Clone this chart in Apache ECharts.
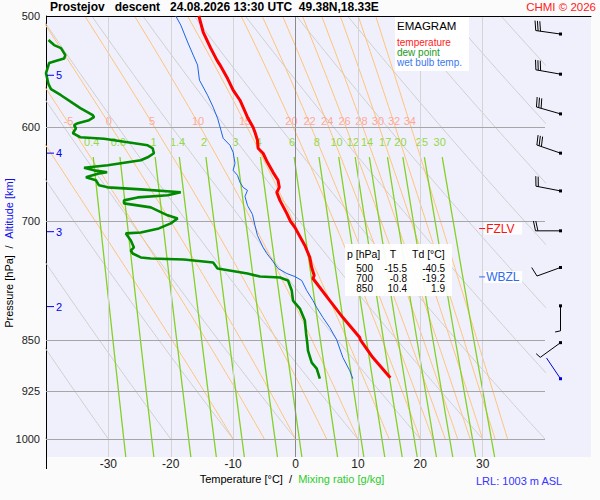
<!DOCTYPE html>
<html><head><meta charset="utf-8">
<script src="https://cdn.jsdelivr.net/npm/echarts@6/dist/echarts.min.js"></script>
<style>html,body{margin:0;padding:0;background:#fbfbfb;}#chart{width:600px;height:500px;}</style>
</head><body><div id="chart"></div>
<script>
// ---------------- data ----------------
const pressureLevels = [500, 600, 700, 850, 925, 1000];
const isotherms = [-30, -20, -10, 0, 10, 20, 30];
const altitudeKm = [5, 4, 3, 2];
const altitudePressure = [551, 626, 712, 805];
const dryAdiabatTheta = [-40, -30, -20, -10, 0, 10, 20, 30, 40, 50, 60, 70, 80, 90, 100];
const moistAdiabatThetaW = [-10, -5, 0, 5, 10, 15, 20, 22, 24, 26, 28, 30, 32, 34];
const mixingRatios = [0.4, 0.6, 1, 1.4, 2, 3, 4, 6, 8, 10, 12, 14, 17, 20, 25, 30];

// [pressure hPa, temperature °C]
const temperature = [[500,-15.5],[513.3,-14.8],[527.0,-13.6],[537.5,-12.6],[541.9,-12.1],[552.7,-11.0],[564.6,-10.0],[574.0,-8.9],[590.2,-7.7],[600.0,-6.8],[604.9,-6.5],[612.9,-6.1],[621.0,-6.0],[626.1,-5.2],[635.5,-4.5],[646.0,-3.6],[654.5,-2.8],[662.1,-2.6],[667.6,-3.0],[676.4,-2.5],[691.0,-1.4],[700.0,-0.8],[707.0,-0.1],[728.3,1.5],[742.7,2.3],[755.0,2.6],[765.0,3.0],[768.8,2.8],[780.2,3.9],[797.1,5.5],[819.6,7.6],[846.9,10.3],[850,10.4],[875.1,12.4],[904.5,15.2]];
const dewPoint = [[520.1,-39.6],[524.4,-38.7],[527.0,-37.6],[533.1,-36.9],[536.1,-37.1],[537.9,-38.2],[540.1,-39.5],[549.1,-40.0],[559.1,-39.6],[563.7,-39.2],[569.3,-37.6],[576.8,-35.7],[581.5,-34.5],[588.3,-32.5],[590.2,-32.3],[593.1,-33.1],[596.0,-34.9],[598.0,-35.5],[601.0,-35.2],[605.9,-35.7],[609.9,-34.5],[611.4,-30.7],[614.9,-26.9],[618.0,-23.7],[621.0,-22.9],[626.1,-22.7],[630.3,-23.7],[633.4,-24.8],[638.6,-30.1],[641.2,-33.9],[643.9,-32.3],[646.0,-30.2],[647.6,-31.7],[651.3,-33.6],[654.5,-32.0],[659.9,-31.5],[662.1,-30.1],[664.3,-24.8],[667.5,-18.4],[670.8,-20.5],[673.1,-25.3],[676.4,-27.5],[679.7,-27.5],[684.2,-23.2],[693.2,-20.5],[696.7,-18.9],[702.4,-20.0],[708.2,-21.9],[712.9,-24.8],[714.0,-27.2],[722.3,-26.4],[730.6,-25.9],[734.3,-26.4],[737.9,-26.1],[742.7,-24.8],[744.0,-23.2],[745.2,-17.9],[748.9,-13.2],[756.3,-12.5],[762.5,-7.7],[766.3,-5.7],[767.5,-2.5],[771.3,-1.2],[784.1,-0.6],[797.1,-0.4],[807.6,0.7],[823.7,1.5],[841.5,1.7],[855.4,1.9],[865.3,2.0],[882.5,2.6],[891.2,3.4],[906.0,3.9]];
const wetBulb = [[500,-19.2],[507.4,-18.4],[521.8,-17.3],[533.1,-16.4],[541.9,-15.7],[555.4,-15.4],[569.3,-14.1],[580.6,-13.2],[591.2,-12.5],[601.9,-12.0],[610.9,-11.6],[618.0,-10.5],[625.1,-10.0],[636.5,-9.7],[643.9,-10.0],[649.2,-9.3],[656.7,-8.9],[662.1,-8.4],[665.4,-7.7],[672.0,-8.1],[682.0,-7.7],[692.1,-6.9],[704.7,-6.5],[716.4,-6.1],[730.6,-5.2],[737.9,-4.6],[747.6,-3.6],[756.3,-2.8],[762.5,-1.4],[766.3,-0.1],[771.3,1.0],[784.1,1.8],[797.1,2.8],[806.3,3.4],[819.6,4.4],[833.2,5.5],[850,6.6],[875.1,7.6],[894.2,8.7],[906.0,9.2]];

const windPressure = [515, 550, 587, 626, 666, 711, 755, 804, 854, 906];
const windDirection = [278, 280, 286, 289, 281, 270, 250, 180, 234, 326];
const windSpeed = [30, 30, 30, 30, 20, 20, 10, 5, 3, 2];

const tableLevels = ['500', '700', '850'];
const tableT = ['-15.5', '-0.8', '10.4'];
const tableTd = ['-40.5', '-19.2', '1.9'];

// ---------------- helpers ----------------
const FONT = 'Liberation Sans, Arial, sans-serif';
const es = T => 6.112 * Math.exp(17.67 * T / (T + 243.5));
// Bolton (1980) equivalent potential temperature of a saturated parcel
function thetaE(T, p) { const K = T + 273.15, e = es(T), r = 622 * e / (p - e);
  return K * Math.pow(1000 / p, 0.2854 * (1 - 0.00028 * r)) * Math.exp((3.376 / K - 0.00254) * r * (1 + 0.00081 * r)); }
function moistT(te, p) { let lo = -110, hi = 60; for (let i = 0; i < 50; i++) { const m = (lo + hi) / 2; if (thetaE(m, p) > te) hi = m; else lo = m; } return (lo + hi) / 2; }
function mixT(w, p) { const e = w * p / (622 + w), l = Math.log(e / 6.112); return 243.5 * l / (17.67 - l); }
function levelCrossing(prof) { for (let i = 1; i < prof.length; i++) { const a = prof[i - 1], b = prof[i]; if (a[1] < 0 && b[1] >= 0) return a[0] + (b[0] - a[0]) * (0 - a[1]) / (b[1] - a[1]); } return null; }
const range = (a, b, s) => { const r = []; for (let v = a; v <= b + 1e-9; v += s) r.push(v); return r; };

const series = [];
const bgLine = (data, color, width, z) => ({ type: 'line', xAxisIndex: 0, yAxisIndex: 0, data, showSymbol: false, symbol: 'none', silent: true, z, lineStyle: { color, width }, clip: true, animation: false });

// grid lines holder
series.push({
  type: 'line', xAxisIndex: 0, yAxisIndex: 0, data: [[0, 700]], symbol: 'none', lineStyle: { opacity: 0 }, silent: true, z: 3,
  markLine: {
    silent: true, symbol: 'none', animation: false,
    data: isotherms.map(t => ({ xAxis: t, lineStyle: { color: t === 0 ? '#8a8a8a' : '#d4d4d4', width: 1, type: 'solid' }, label: { show: false } }))
      .concat(pressureLevels.map(p => ({ yAxis: p, lineStyle: { color: p === 500 ? '#000' : '#a6a6a6', width: 1, type: 'solid' },
        label: { show: true, position: 'start', formatter: String(p), color: '#222', fontSize: 11, fontFamily: FONT, distance: 6 } })))
  }
});

const pDry = range(500, 1000, 5);
dryAdiabatTheta.forEach(th => series.push(bgLine(pDry.map(p => [(th + 273.15) * Math.pow(p / 1000, 0.2857) - 273.15, p]), '#cfcfcf', 1, 1)));
moistAdiabatThetaW.forEach(tw => { const te = thetaE(tw, 1000); series.push(bgLine(pDry.map(p => [moistT(te, p), p]), '#ffc37a', 1, 1)); });
const pMix = range(630, 1030, 10);
mixingRatios.forEach(w => series.push(bgLine(pMix.map(p => [mixT(w, p), p]), '#84d024', 1.3, 2)));

function textSeries(items, style, z) {
  return { type: 'custom', xAxisIndex: 0, yAxisIndex: 0, z, silent: true, animation: false,
    data: items.map(it => [it.T, it.p]),
    renderItem: (params, api) => { const pt = api.coord([api.value(0), api.value(1)]);
      return { type: 'text', x: pt[0], y: pt[1], style: Object.assign({ text: items[params.dataIndex].text, align: 'center', verticalAlign: 'middle', fontFamily: FONT, fontSize: 11 }, style) }; } };
}
// labels sit just above the 600 hPa isobar, on each line
const moistLabels = moistAdiabatThetaW.map(tw => ({ T: moistT(thetaE(tw, 1000), 596), p: 594, text: String(tw) })).filter(o => o.T > -39 && o.T < 39);
series.push(textSeries(moistLabels, { fill: '#ffa898' }, 4));
const mixLabels = mixingRatios.map(w => ({ T: mixT(w, 615), p: 615, text: String(w) }));
series.push(textSeries(mixLabels, { fill: '#95d847' }, 4));

// sounding
const sound = (name, prof, color, width) => ({ name, type: 'line', xAxisIndex: 0, yAxisIndex: 0, data: prof.map(d => [d[1], d[0]]), showSymbol: false, symbol: 'none', z: 6, lineStyle: { color, width }, clip: true, animation: false });
series.push(sound('wet bulb temp.', wetBulb, '#1b62e8', 1));
series.push(sound('dew point', dewPoint, '#008a00', 2.6));
series.push(sound('temperature', temperature, '#ff0000', 3));

// altitude ticks
series.push({ type: 'custom', xAxisIndex: 0, yAxisIndex: 0, z: 7, silent: true, animation: false,
  data: altitudeKm.map((k, i) => [-40, altitudePressure[i], k]),
  renderItem: (params, api) => { const pt = api.coord([api.value(0), api.value(1)]);
    return { type: 'group', children: [
      { type: 'line', shape: { x1: pt[0] + 1, y1: pt[1], x2: pt[0] + 8, y2: pt[1] }, style: { stroke: '#0000ee', lineWidth: 1 } },
      { type: 'text', x: pt[0] + 10, y: pt[1], style: { text: String(altitudeKm[params.dataIndex]), fill: '#0000ee', fontSize: 11, fontFamily: FONT, verticalAlign: 'middle', align: 'left' } } ] }; } });

// freezing / wet-bulb zero levels
const levels = [{ name: 'FZLV', p: levelCrossing(temperature), color: '#ff1010' }, { name: 'WBZL', p: levelCrossing(wetBulb), color: '#2f6bf0' }];
series.push({ type: 'custom', xAxisIndex: 0, yAxisIndex: 0, z: 8, silent: true, animation: false,
  data: levels.map(l => [30, l.p]),
  renderItem: (params, api) => { const pt = api.coord([api.value(0), api.value(1)]); const l = levels[params.dataIndex];
    return { type: 'group', children: [
      { type: 'rect', shape: { x: pt[0] + 1.5, y: pt[1] - 6, width: 38, height: 12 }, style: { fill: 'rgba(255,255,255,0.9)' } },
      { type: 'line', shape: { x1: pt[0] - 3.5, y1: pt[1], x2: pt[0] + 2.5, y2: pt[1] }, style: { stroke: l.color, lineWidth: 1 } },
      { type: 'text', x: pt[0] + 3.5, y: pt[1] + 0.5, style: { text: l.name, fill: l.color, fontSize: 12, fontFamily: FONT, verticalAlign: 'middle', align: 'left' } } ] }; } });

// wind barbs
const STATION_X = 15.5;
const groundIdx = windPressure.indexOf(Math.max(...windPressure));
series.push({ type: 'custom', xAxisIndex: 1, yAxisIndex: 1, z: 8, silent: true, animation: false,
  data: windPressure.map((p, i) => [STATION_X, p, windDirection[i], windSpeed[i]]),
  renderItem: (params, api) => {
    const base = api.coord([api.value(0), api.value(1)]);
    const rad = api.value(2) * Math.PI / 180, dx = Math.sin(rad), dy = -Math.cos(rad);
    const L = 25, color = params.dataIndex === groundIdx ? '#0000dd' : '#000';
    const tip = [base[0] + dx * L, base[1] + dy * L];
    const ch = [{ type: 'line', shape: { x1: base[0], y1: base[1], x2: tip[0], y2: tip[1] }, style: { stroke: color, lineWidth: 1 } },
      { type: 'rect', shape: { x: base[0] - 1.5, y: base[1] - 1.5, width: 3, height: 3 }, style: { fill: color } }];
    const a = 12 * Math.PI / 180, px = -dy, py = dx;
    const fx = Math.cos(a) * px + Math.sin(a) * dx, fy = Math.cos(a) * py + Math.sin(a) * dy;
    let rem = Math.round(api.value(3) / 5) * 5, pos = L;
    const feather = len => { const b = [base[0] + dx * pos, base[1] + dy * pos]; ch.push({ type: 'line', shape: { x1: b[0], y1: b[1], x2: b[0] + fx * len, y2: b[1] + fy * len }, style: { stroke: color, lineWidth: 1 } }); pos -= 2.4; };
    while (rem >= 10) { feather(10); rem -= 10; }
    if (rem >= 5) feather(5.5);
    return { type: 'group', children: ch };
  } });

// ---------------- chart ----------------
const chart = echarts.init(document.getElementById('chart'), null, { renderer: 'svg' });
const tx = (x, y, text, style) => ({ type: 'text', x, y, z: 100, style: Object.assign({ text, fontFamily: FONT, fontSize: 11, fill: '#000', align: 'left', verticalAlign: 'middle' }, style) });
const graphics = [
  tx(50, 7, 'Prostejov\u00a0\u00a0\u00a0descent\u00a0\u00a0\u00a024.08.2026 13:30 UTC\u00a0\u00a049.38N,18.33E', { fontWeight: 'bold', fontSize: 12 }),
  tx(596, 7, 'CHMI \u00a9 2026', { fill: '#ff2020', align: 'right', fontSize: 11.5 }),
  { type: 'rect', z: 99, shape: { x: 395, y: 17, width: 74, height: 54 }, style: { fill: '#ffffff' } },
  tx(397, 26, 'EMAGRAM', { fontSize: 11.5 }),
  tx(397, 42, 'temperature', { fill: '#ff1a1a', fontSize: 10 }),
  tx(397, 52, 'dew point', { fill: '#229a22', fontSize: 10 }),
  tx(397, 62, 'wet bulb temp.', { fill: '#3a78f0', fontSize: 10 }),
  { type: 'rect', z: 99, shape: { x: 345, y: 244, width: 107, height: 52 }, style: { fill: 'rgba(255,255,255,0.92)' } },
  tx(347, 253.5, 'p [hPa]', { fontSize: 10.5 }), tx(393, 253.5, 'T', { align: 'center', fontSize: 10.5 }), tx(412, 253.5, 'Td [\u00b0C]', { fontSize: 10.5 }),
  { type: 'line', z: 5, shape: { x1: 46.5, y1: 457, x2: 46.5, y2: 469 }, style: { stroke: '#000', lineWidth: 1 } },
  tx(292, 479, '{k|Temperature [\u00b0C]}\u00a0\u00a0{k|/}\u00a0\u00a0{g|Mixing ratio [g/kg]}', { align: 'center', rich: { k: { fill: '#000', fontSize: 11, fontFamily: FONT }, g: { fill: '#2ccc2c', fontSize: 11, fontFamily: FONT } } }),
  tx(476, 481, 'LRL: 1003 m ASL', { fill: '#3535ff' }),
  { type: 'text', x: 9, y: 253, rotation: Math.PI / 2, z: 100, style: { text: '{k|Pressure [hPa]}\u00a0\u00a0{k|/}\u00a0\u00a0{b|Altitude [km]}', align: 'center', verticalAlign: 'middle', rich: { k: { fill: '#000', fontSize: 11, fontFamily: FONT }, b: { fill: '#1010ee', fontSize: 11, fontFamily: FONT } } } }
];
tableLevels.forEach((lv, i) => { const y = 268 + i * 10;
  graphics.push(tx(373, y, lv, { align: 'right', fontSize: 10 }), tx(407, y, tableT[i], { align: 'right', fontSize: 10 }), tx(445, y, tableTd[i], { align: 'right', fontSize: 10 })); });

chart.setOption({
  backgroundColor: '#fbfbfb',
  animation: false,
  textStyle: { fontFamily: FONT },
  grid: [
    { left: 46, top: 16, width: 499, height: 441, show: true, backgroundColor: '#f0f0fc', borderWidth: 0 },
    { left: 545, top: 16, width: 46, height: 441, show: true, backgroundColor: '#f0f0fc', borderWidth: 0 }
  ],
  xAxis: [
    { gridIndex: 0, type: 'value', min: -40, max: 40, interval: 10, axisLine: { show: false }, axisTick: { show: false }, splitLine: { show: false },
      axisLabel: { showMinLabel: false, showMaxLabel: false, color: '#222', fontSize: 12, fontFamily: FONT, margin: 1 } },
    { gridIndex: 1, type: 'value', min: 0, max: 46, position: 'top', axisLine: { show: true, onZero: false, lineStyle: { color: '#000' } }, axisTick: { show: false }, axisLabel: { show: false }, splitLine: { show: false } }
  ],
  yAxis: [
    { gridIndex: 0, type: 'log', logBase: 10, min: 500, max: 1030, inverse: true, axisLine: { show: true, onZero: false, lineStyle: { color: '#000' } }, axisTick: { show: false }, axisLabel: { show: false }, splitLine: { show: false } },
    { gridIndex: 1, type: 'log', logBase: 10, min: 500, max: 1030, inverse: true, show: false }
  ],
  graphic: graphics,
  series
});
</script></body></html>
